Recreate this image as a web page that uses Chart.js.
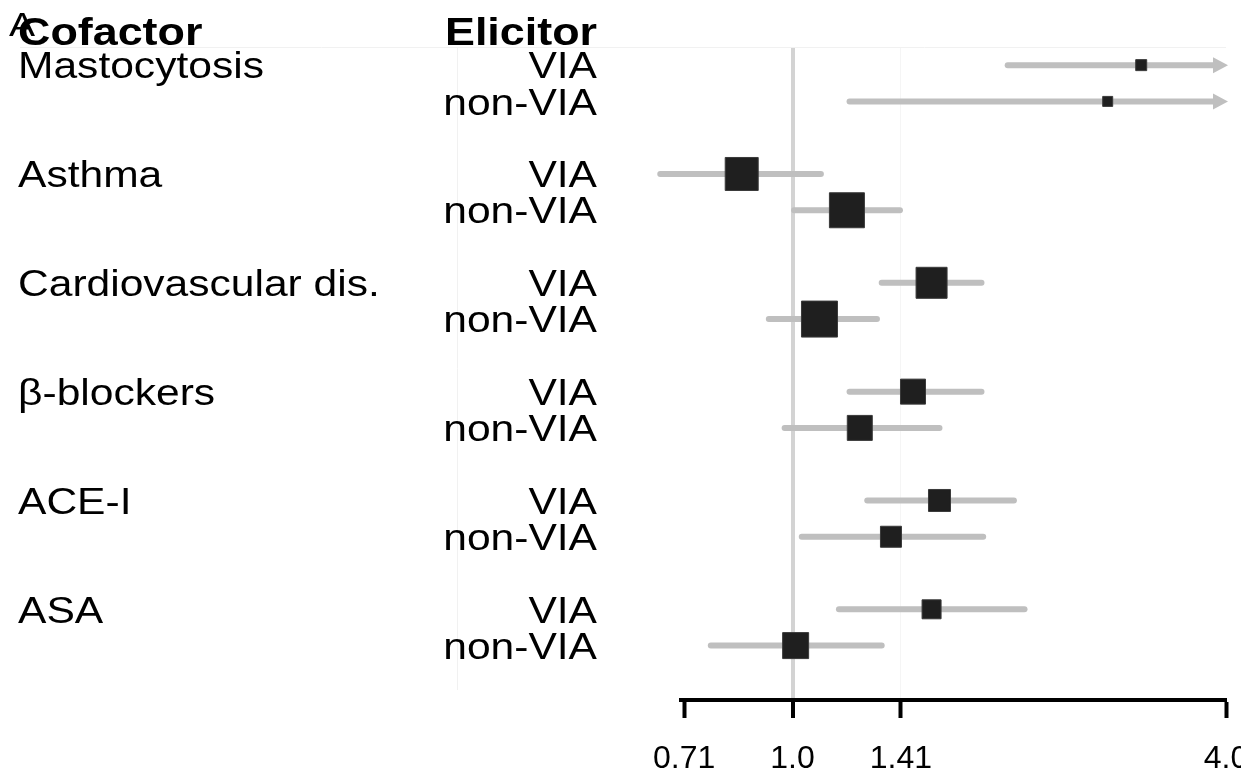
<!DOCTYPE html>
<html>
<head>
<meta charset="utf-8">
<script src="https://cdn.jsdelivr.net/npm/chart.js@4.4.1/dist/chart.umd.min.js"></script>
<style>
    html, body { margin: 0; padding: 0; background: #fff; }
    #wrap { width: 1241px; height: 771px; }
</style>
</head>
<body>
<div id="wrap"><canvas id="forest"></canvas></div>
<script>
// Forest plot data (odds ratios on a log2 axis)
const cofactors = ['Mastocytosis', 'Asthma', 'Cardiovascular dis.', 'β-blockers', 'ACE-I', 'ASA'];
const elicitors = ['VIA', 'non-VIA'];
const estimates = [3.05, 2.74, 0.85, 1.19, 1.56, 1.09, 1.47, 1.24, 1.60, 1.37, 1.56, 1.01];
const lowerCI   = [1.99, 1.20, 0.655, 1.005, 1.33, 0.927, 1.20, 0.975, 1.27, 1.03, 1.16, 0.77];
// null = upper limit runs off the axis (drawn as an arrow)
const upperCI   = [null, null, 1.095, 1.41, 1.83, 1.31, 1.83, 1.60, 2.03, 1.84, 2.10, 1.33];
const weights   = [11, 10, 33, 35, 31, 36, 25, 25, 22, 21, 19, 26];
// log2 ticks: 2^-0.5, 2^0, 2^0.5, 2^2
const tickValues = [0.7071, 1.0, 1.4142, 4.0];
const tickLabels = ['0.71', '1.0', '1.41', '4.0'];

// each cofactor takes two rows plus a blank spacer row
const rowOf = i => Math.floor(i / 2) * 3 + (i % 2);

const FONT = '"Liberation Sans", Arial, Helvetica, sans-serif';
const TEXT_STRETCH = 1.15;
const BOX_SCALE = Math.SQRT1_2; // rect point side = radius * sqrt(2)

const drawText = (ctx, text, x, y, font, align, stretch = TEXT_STRETCH) => {
    ctx.save();
    ctx.font = font;
    ctx.fillStyle = '#000';
    ctx.textBaseline = 'alphabetic';
    ctx.translate(x, y);
    ctx.scale(stretch, 1);
    ctx.textAlign = align;
    ctx.fillText(text, 0, 0);
    ctx.restore();
};

const forestPlugin = {
    id: 'forest',
    beforeDatasetsDraw(chart) {
        const { ctx, chartArea, scales: { x, y } } = chart;
        ctx.save();
        // faint table lines
        ctx.strokeStyle = '#f1f1f1';
        ctx.lineWidth = 1;
        ctx.beginPath();
        ctx.moveTo(20, chartArea.top + 0.5);
        ctx.lineTo(chartArea.right, chartArea.top + 0.5);
        ctx.moveTo(457.5, chartArea.top);
        ctx.lineTo(457.5, chartArea.bottom - 10);
        ctx.stroke();

        // confidence intervals
        ctx.strokeStyle = '#bfbfbf';
        ctx.fillStyle = '#bfbfbf';
        ctx.lineWidth = 6;
        ctx.lineCap = 'round';
        estimates.forEach((v, i) => {
            const py = y.getPixelForValue(rowOf(i));
            const x1 = x.getPixelForValue(lowerCI[i]);
            const open = upperCI[i] === null;
            const x2 = open ? x.getPixelForValue(x.max) : x.getPixelForValue(upperCI[i]);
            ctx.beginPath();
            ctx.moveTo(x1, py);
            ctx.lineTo(open ? x2 - 8 : x2, py);
            ctx.stroke();
            if (open) {
                ctx.beginPath();
                ctx.moveTo(x2 + 2, py);
                ctx.lineTo(x2 - 13, py - 8);
                ctx.lineTo(x2 - 13, py + 8);
                ctx.closePath();
                ctx.fill();
            }
        });
        ctx.restore();
    },
    afterDraw(chart) {
        const { ctx, chartArea, scales: { x, y } } = chart;
        const rowSize = 37;
        const rowFont = `${rowSize}px ${FONT}`;
        const cap = rowSize * 0.716 / 2;

        // headers
        drawText(ctx, 'Cofactor', 18, 45, `bold 39px ${FONT}`, 'left');
        drawText(ctx, 'Elicitor', 597, 45, `bold 39px ${FONT}`, 'right');
        drawText(ctx, 'A', 9, 36, `34px ${FONT}`, 'left');

        estimates.forEach((v, i) => {
            const py = y.getPixelForValue(rowOf(i)) + cap;
            drawText(ctx, elicitors[i % 2], 597, py, rowFont, 'right');
            if (i % 2 === 0) drawText(ctx, cofactors[i / 2], 18, py, rowFont, 'left');
        });

        // x tick labels
        tickValues.forEach((t, i) => {
            drawText(ctx, tickLabels[i], x.getPixelForValue(t), chartArea.bottom + 68, `32px ${FONT}`, 'center', 1.0);
        });
    }
};

const points = estimates.map((v, i) => ({ x: v, y: rowOf(i) }));

new Chart(document.getElementById('forest'), {
    type: 'scatter',
    data: {
        datasets: [{
            data: points,
            pointStyle: 'rect',
            pointRadius: weights.map(w => w * BOX_SCALE),
            pointHoverRadius: weights.map(w => w * BOX_SCALE),
            backgroundColor: '#1f1f1f',
            borderColor: '#3a3a3a',
            borderWidth: 1,
            clip: false
        }]
    },
    options: {
        responsive: true,
        maintainAspectRatio: false,
        animation: false,
        events: [],
        layout: { autoPadding: false, padding: { left: 681, right: 15, top: 47, bottom: 53 } },
        plugins: { legend: { display: false }, tooltip: { enabled: false } },
        scales: {
            x: {
                type: 'logarithmic',
                min: tickValues[0],
                max: tickValues[tickValues.length - 1],
                afterBuildTicks: scale => { scale.ticks = tickValues.map(v => ({ value: v })); },
                ticks: { display: false },
                border: { display: true, color: '#000', width: 4 },
                grid: {
                    drawOnChartArea: true,
                    color: c => c.tick && c.tick.value === 1.0 ? '#d3d3d3'
                        : (c.tick && c.tick.value === 1.4142 ? '#f5f5f5' : 'rgba(0,0,0,0)'),
                    lineWidth: c => c.tick && c.tick.value === 1.0 ? 4 : 1,
                    drawTicks: true,
                    tickLength: 18,
                    tickColor: '#000',
                    tickWidth: 4
                }
            },
            y: {
                type: 'linear',
                display: false,
                reverse: true,
                min: -0.5,
                max: 17.5
            }
        }
    },
    plugins: [forestPlugin]
});
</script>
</body>
</html>
